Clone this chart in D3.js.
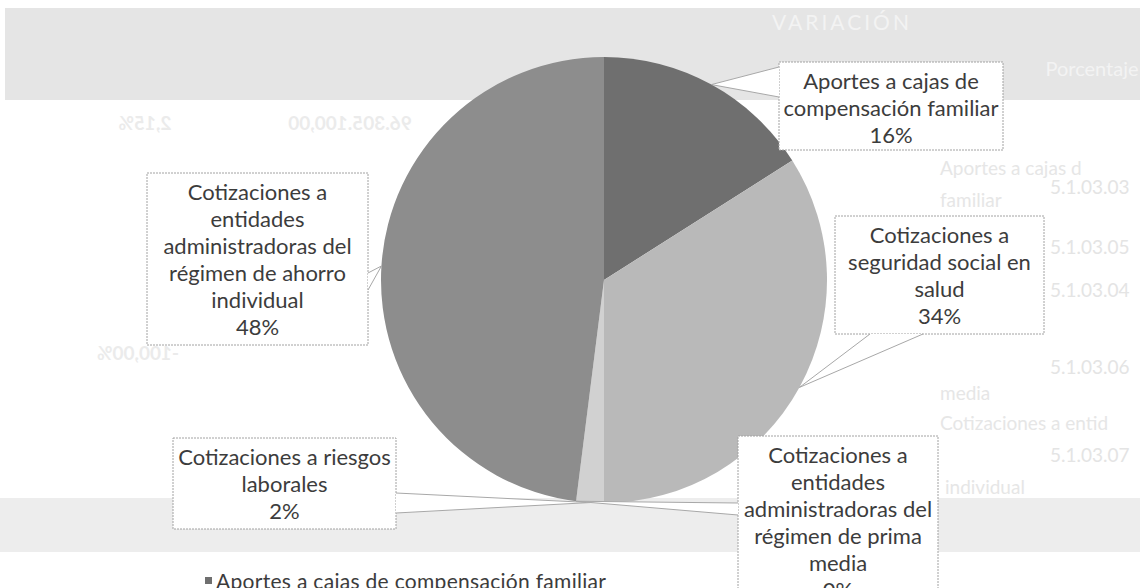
<!DOCTYPE html>
<html>
<head>
<meta charset="utf-8">
<script src="https://cdn.jsdelivr.net/npm/d3@7"></script>
<style>
  html, body { margin: 0; padding: 0; background: #ffffff; }
  svg { display: block; font-family: Lato, "Open Sans", sans-serif; }
</style>
</head>
<body>
<svg id="chart" width="1140" height="588"></svg>
<script>
// ---------------- data ----------------
const categories = [
  "Aportes a cajas de compensación familiar",
  "Cotizaciones a seguridad social en salud",
  "Cotizaciones a riesgos laborales",
  "Cotizaciones a entidades administradoras del régimen de prima media",
  "Cotizaciones a entidades administradoras del régimen de ahorro individual"
];
const values = [16, 34, 2, 0, 48];
const labelLines = [
  ["Aportes a cajas de", "compensación familiar"],
  ["Cotizaciones a", "seguridad social en", "salud"],
  ["Cotizaciones a riesgos", "laborales"],
  ["Cotizaciones a", "entidades", "administradoras del", "régimen de prima", "media"],
  ["Cotizaciones a", "entidades", "administradoras del", "régimen de ahorro", "individual"]
];
// faint show-through text from the scanned page behind the chart
const ghostHeader = ["VARIACIÓN", "Porcentaje"];
const ghostCodes = ["5.1.03.03", "5.1.03.05", "5.1.03.04", "5.1.03.06", "5.1.03.07"];
const ghostDesc = ["Aportes a cajas d", "familiar", "media", "Cotizaciones a entid", "individual"];
const ghostMirrored = ["2,15%", "96.305.100,00", "-100,00%"];

// ---------------- layout / style ----------------
const W = 1140, H = 588;
const cx = 604, cy = 280, R = 223;
const sliceColors = ["#6f6f6f", "#b9b9b9", "#d1d1d1", "#dcdcdc", "#8d8d8d"];
const textColor = "#3c3c3c";
const fontSize = 22;
const lineH = 27;
const boxes = [
  { x: 779, y: 62,  w: 224, h: 88,  side: "left",   b0: 67,  b1: 97  },
  { x: 835, y: 216, w: 209, h: 118, side: "bottom", b0: 870, b1: 923 },
  { x: 173, y: 438, w: 223, h: 91,  side: "right",  b0: 493, b1: 513 },
  { x: 738, y: 436, w: 200, h: 172, side: "left",   b0: 503, b1: 515 },
  { x: 147, y: 173, w: 221, h: 172, side: "right",  b0: 273, b1: 290 }
];
const ghostCodeX = [1050, 1050, 1050, 1050, 1050];
const ghostCodeY = [187, 247, 290, 367, 455];
const ghostDescPos = [[940, 168], [940, 200], [940, 393], [940, 423], [945, 487]];
const ghostMirPos = [[145, 123], [350, 123], [138, 353]];

const svg = d3.select("#chart");

// ---------------- page background (scan show-through) ----------------
const bg = svg.append("g");
bg.append("rect").attr("x", 5).attr("y", 8).attr("width", W - 5).attr("height", 92).attr("fill", "#e5e5e5");
bg.append("rect").attr("x", 0).attr("y", 498).attr("width", W).attr("height", 54).attr("fill", "#ededed");

bg.append("text").attr("x", 842).attr("y", 30).attr("text-anchor", "middle")
  .attr("font-size", 21).attr("letter-spacing", 3).attr("fill", "#f3f3f3").text(ghostHeader[0]);
bg.append("text").attr("x", 1092).attr("y", 76).attr("text-anchor", "middle")
  .attr("font-size", 20).attr("fill", "#f3f3f3").text(ghostHeader[1]);

bg.selectAll("text.code").data(ghostCodes).join("text").attr("class", "code")
  .attr("x", (d, i) => ghostCodeX[i]).attr("y", (d, i) => ghostCodeY[i] + 7)
  .attr("font-size", 19).attr("fill", "#e4e4e4").text(d => d);
bg.selectAll("text.desc").data(ghostDesc).join("text").attr("class", "desc")
  .attr("x", (d, i) => ghostDescPos[i][0]).attr("y", (d, i) => ghostDescPos[i][1] + 7)
  .attr("font-size", 19).attr("fill", "#e6e6e6").text(d => d);
bg.selectAll("text.mir").data(ghostMirrored).join("text").attr("class", "mir")
  .attr("transform", (d, i) => `translate(${ghostMirPos[i][0]},${ghostMirPos[i][1] + 7}) scale(-1,1)`)
  .attr("text-anchor", "middle").attr("font-size", 19).attr("font-weight", "bold")
  .attr("fill", "#ebebeb").text(d => d);

// ---------------- pie ----------------
const pieData = d3.pie().sort(null).value(d => d)(values);
const arc = d3.arc().innerRadius(0).outerRadius(R);
const gPie = svg.append("g").attr("transform", `translate(${cx},${cy})`);
gPie.selectAll("path").data(pieData).join("path")
  .attr("d", arc)
  .attr("fill", (d, i) => sliceColors[i]);

// ---------------- callouts ----------------
const fmt = d3.format(".0%");
const total = d3.sum(values);
const gLab = svg.append("g");
pieData.forEach((d, i) => {
  const b = boxes[i];
  const mid = (d.startAngle + d.endAngle) / 2;
  const tip = [cx + R * Math.sin(mid), cy - R * Math.cos(mid)];
  let p0, p1;
  if (b.side === "left")  { p0 = [b.x, b.b0]; p1 = [b.x, b.b1]; }
  if (b.side === "right") { p0 = [b.x + b.w, b.b0]; p1 = [b.x + b.w, b.b1]; }
  if (b.side === "bottom"){ p0 = [b.b0, b.y + b.h]; p1 = [b.b1, b.y + b.h]; }
  const g = gLab.append("g");
  g.append("rect").attr("x", b.x).attr("y", b.y).attr("width", b.w).attr("height", b.h)
    .attr("fill", "#ffffff").attr("stroke", "#a2a2a2").attr("stroke-width", 1)
    .attr("stroke-dasharray", "2,1");
  g.append("path").attr("d", `M${p0}L${tip}L${p1}Z`).attr("fill", "#ffffff").attr("stroke", "none");
  g.append("path").attr("d", `M${p0}L${tip}L${p1}`).attr("fill", "none")
    .attr("stroke", "#a8a8a8").attr("stroke-width", 1);
  const lines = labelLines[i].concat([fmt(d.data / total)]);
  g.selectAll("text").data(lines).join("text")
    .attr("x", b.x + b.w / 2)
    .attr("y", (t, k) => b.y + 19.5 + k * lineH)
    .attr("dy", "0.36em")
    .attr("text-anchor", "middle")
    .attr("font-size", fontSize)
    .attr("fill", textColor)
    .text(t => t);
});

// ---------------- legend (only the first entry falls inside the picture) ----------------
const legTop = 577;
const legEntries = categories.map((c, i) => ({ c, i })).filter(e => legTop + e.i * lineH < H);
const gLeg = svg.append("g");
const leg = gLeg.selectAll("g").data(legEntries).join("g")
  .attr("transform", e => `translate(205,${legTop + e.i * lineH})`);
leg.append("rect").attr("width", 7).attr("height", 7).attr("fill", e => sliceColors[e.i]);
leg.append("text").attr("x", 11).attr("y", 4).attr("dy", "0.36em")
  .attr("font-size", 21).attr("fill", textColor).attr("letter-spacing", 0.3).text(e => e.c);
</script>
</body>
</html>
